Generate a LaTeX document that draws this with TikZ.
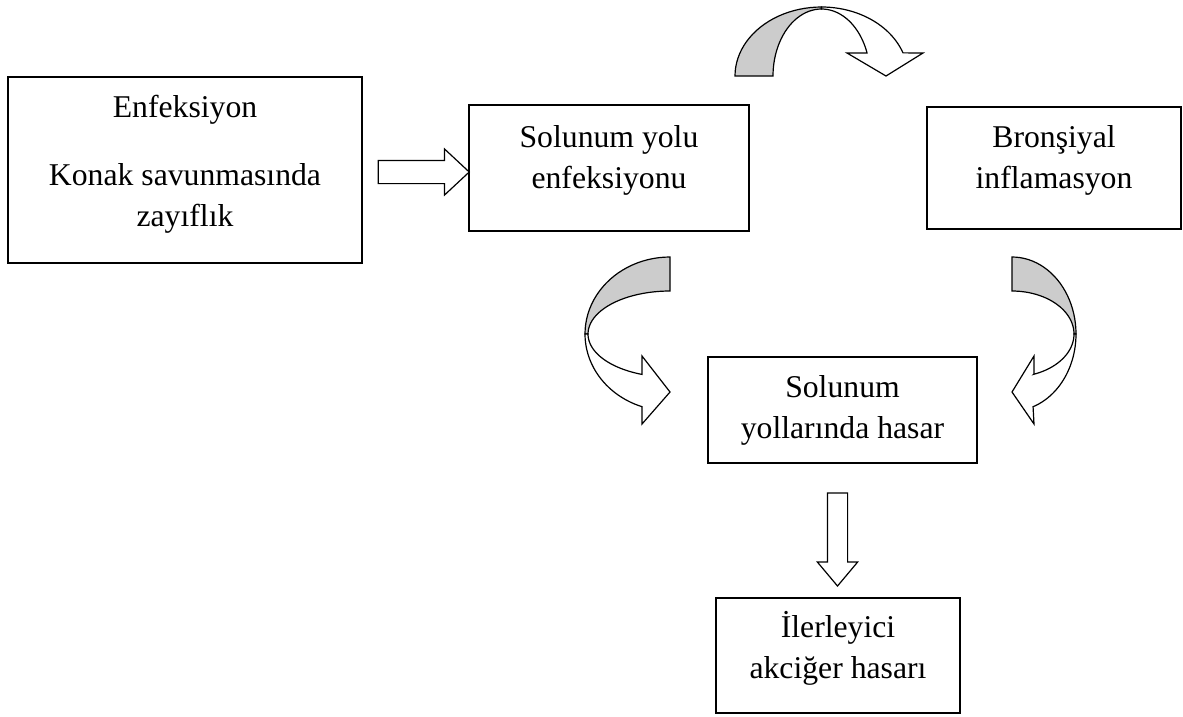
\documentclass[tikz,border=0pt]{standalone}
\usepackage{fontspec}
\setmainfont{Liberation Serif}
\usetikzlibrary{shapes.arrows}

\begin{document}
\begin{tikzpicture}[x=1pt,y=-1pt,line width=1.2pt,
  kutu/.style={draw},
  yazi/.style={align=center,inner sep=0pt,font=\fontsize{31.7pt}{41pt}\selectfont},
  blok/.style={draw,single arrow,fill=white},
  arka/.style={fill=gray!40},
  onyuz/.style={fill=white}]
\useasboundingbox (0,0) rectangle (1183,716);
\node[kutu,minimum width=354pt,minimum height=186pt,
  label={[yazi,yshift=6pt]center:{Enfeksiyon\\[27pt]Konak savunmasında\\zayıflık}}] (enf) at (185,170) {};
\node[kutu,minimum width=280pt,minimum height=126pt,
  label={[yazi,yshift=8pt]center:{Solunum yolu\\enfeksiyonu}}] (syol) at (609,168) {};
\node[kutu,minimum width=254pt,minimum height=122pt,
  label={[yazi,yshift=8pt]center:{Bronşiyal\\inflamasyon}}] (bron) at (1054,168) {};
\node[kutu,minimum width=269pt,minimum height=106pt,
  label={[yazi]center:{Solunum\\yollarında hasar}}] (hasar) at (842.5,410) {};
\node[kutu,minimum width=244pt,minimum height=115pt,
  label={[yazi,yshift=7pt]center:{İlerleyici\\akciğer hasarı}}] (akc) at (838,655.5) {};
\node[blok,inner sep=11pt,minimum height=91pt,single arrow head extend=11.5pt,
  single arrow tip angle=86] (ok1) at (417.5,172) {};
\node[blok,inner sep=9.5pt,minimum height=93pt,single arrow head extend=10pt,
  single arrow tip angle=80,shape border rotate=270] (ok2) at (837.5,533.5) {};
% egri oklar
\filldraw[arka] plot[domain=180:90,variable=\t] ({821.5+86.5*cos(\t)},{76-69*sin(\t)})
  -- plot[domain=90:180,variable=\t] ({821.5+48.5*cos(\t)},{76-67*sin(\t)}) -- cycle;
\filldraw[onyuz] plot[domain=90:19.6,variable=\t] ({821.5+86.5*cos(\t)},{76-69*sin(\t)})
  -- (923,53) -- (886,76) -- (847,53) -- (867,53)
  -- plot[domain=20.1:90,variable=\t] ({821.5+48.5*cos(\t)},{76-67*sin(\t)}) -- cycle;
\filldraw[arka] plot[domain=90:180,variable=\t] ({670+85*cos(\t)},{334-77*sin(\t)})
  -- plot[domain=180:90,variable=\t] ({670+82*cos(\t)},{334-43*sin(\t)}) -- cycle;
\filldraw[onyuz] plot[domain=180:250.8,variable=\t] ({670+85*cos(\t)},{334-77*sin(\t)})
  -- (642,424) -- (670,392) -- (642,356) -- (642,374)
  -- plot[domain=250:180,variable=\t] ({670+82*cos(\t)},{334-43*sin(\t)}) -- cycle;
\filldraw[arka] plot[domain=90:0,variable=\t] ({1012+64*cos(\t)},{334-77*sin(\t)})
  -- plot[domain=0:90,variable=\t] ({1012+62*cos(\t)},{334-43*sin(\t)}) -- cycle;
\filldraw[onyuz] plot[domain=0:-70.8,variable=\t] ({1012+64*cos(\t)},{334-77*sin(\t)})
  -- (1034,424) -- (1012,392) -- (1034,356) -- (1034,374)
  -- plot[domain=-69.5:0,variable=\t] ({1012+62*cos(\t)},{334-43*sin(\t)}) -- cycle;
\end{tikzpicture}
\end{document}
